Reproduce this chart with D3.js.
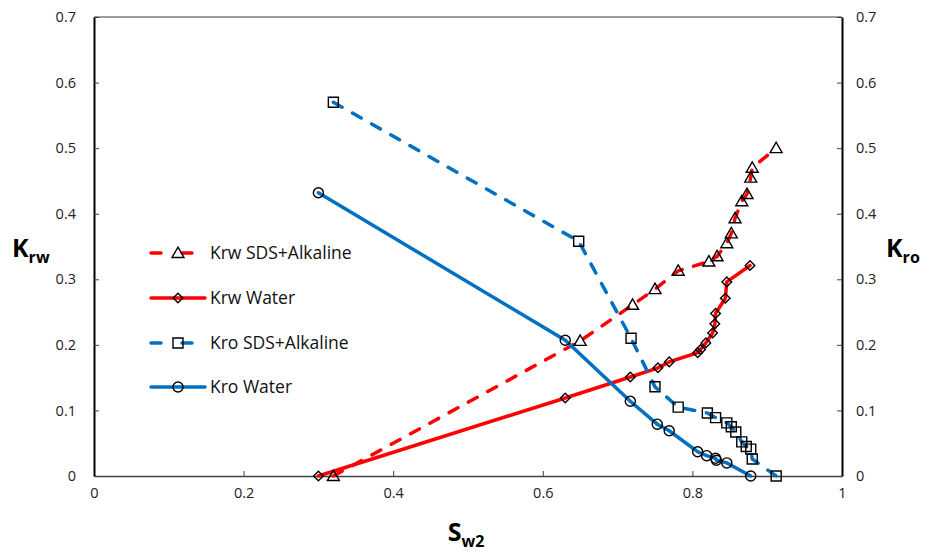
<!DOCTYPE html>
<html>
<head>
<meta charset="utf-8">
<script src="https://cdn.jsdelivr.net/npm/d3@7"></script>
<style>
  body { margin: 0; background: #fff; }
  text { font-family: "Open Sans", "Noto Sans", sans-serif; }
</style>
</head>
<body>
<div id="chart"></div>
<script>
// series
var krwSdsX = [0.32, 0.65, 0.72, 0.75, 0.781, 0.822, 0.833, 0.846, 0.852, 0.857, 0.866, 0.873, 0.878, 0.880, 0.912];
var krwSdsY = [0, 0.206, 0.261, 0.285, 0.313, 0.327, 0.335, 0.355, 0.37, 0.393, 0.419, 0.43, 0.455, 0.47, 0.5];

var krwWaterX = [0.30, 0.63, 0.717, 0.754, 0.769, 0.807, 0.811, 0.818, 0.827, 0.830, 0.831, 0.844, 0.846, 0.877];
var krwWaterY = [0, 0.119, 0.151, 0.165, 0.174, 0.188, 0.193, 0.203, 0.218, 0.232, 0.248, 0.271, 0.296, 0.321];

var kroSdsX = [0.32, 0.648, 0.718, 0.75, 0.781, 0.82, 0.831, 0.846, 0.852, 0.858, 0.866, 0.872, 0.878, 0.880, 0.912];
var kroSdsY = [0.570, 0.358, 0.21, 0.136, 0.105, 0.096, 0.089, 0.081, 0.075, 0.067, 0.052, 0.045, 0.041, 0.026, 0];

var kroWaterX = [0.30, 0.63, 0.717, 0.753, 0.769, 0.807, 0.819, 0.831, 0.832, 0.846, 0.878];
var kroWaterY = [0.432, 0.207, 0.114, 0.079, 0.069, 0.037, 0.031, 0.027, 0.024, 0.020, 0];

var xTicks = [0, 0.2, 0.4, 0.6, 0.8, 1];
var yTicks = [0, 0.1, 0.2, 0.3, 0.4, 0.5, 0.6, 0.7];

var seriesNames = ["Krw SDS+Alkaline", "Krw Water", "Kro SDS+Alkaline", "Kro Water"];

var width = 934, height = 553;
var plotL = 94, plotR = 842, plotT = 17, plotB = 476;

var x = d3.scaleLinear().domain([0, 1]).range([plotL, plotR]);
var y = d3.scaleLinear().domain([0, 0.7]).range([plotB, plotT]);

var svg = d3.select("#chart").append("svg")
    .attr("width", width)
    .attr("height", height);

// frame: thin dark top, black sides and bottom
svg.append("line").attr("x1", plotL).attr("x2", plotR).attr("y1", plotT).attr("y2", plotT)
    .attr("stroke", "#404040").attr("stroke-width", 1.2);

var fmt = d3.format("~g");

var xAxis = svg.append("g")
    .attr("transform", "translate(0," + plotB + ")")
    .call(d3.axisBottom(x).tickValues(xTicks).tickSizeInner(-5).tickSizeOuter(0).tickPadding(12).tickFormat(fmt));

var yLeft = svg.append("g")
    .attr("transform", "translate(" + plotL + ",0)")
    .call(d3.axisLeft(y).tickValues(yTicks).tickSizeInner(-5).tickSizeOuter(0).tickPadding(18).tickFormat(fmt));

var yRight = svg.append("g")
    .attr("transform", "translate(" + plotR + ",0)")
    .call(d3.axisRight(y).tickValues(yTicks).tickSizeInner(-5).tickSizeOuter(0).tickPadding(14).tickFormat(fmt));

[xAxis, yLeft, yRight].forEach(function (g) {
    g.select(".domain").attr("stroke", "#000").attr("stroke-width", 2);
    g.selectAll(".tick line").attr("stroke", "#404040").attr("stroke-width", 1);
    g.selectAll(".tick text").attr("fill", "#222").style("font-size", "14.5px")
        .style("font-family", "'Open Sans', sans-serif");
});
xAxis.select(".domain").attr("stroke", "#404040").attr("stroke-width", 1.5);

var series = [
    {xs: krwSdsX, ys: krwSdsY, color: "#ff0000", dash: true, sym: "triangle"},
    {xs: krwWaterX, ys: krwWaterY, color: "#ff0000", dash: false, sym: "diamond"},
    {xs: kroSdsX, ys: kroSdsY, color: "#0070c0", dash: true, sym: "square"},
    {xs: kroWaterX, ys: kroWaterY, color: "#0070c0", dash: false, sym: "circle"}
];

var line = d3.line()
    .x(function (d) { return x(d[0]); })
    .y(function (d) { return y(d[1]); });

function markerPath(sym) {
    if (sym == "triangle") return d3.symbol().type(d3.symbolTriangle).size(62)();
    if (sym == "square") return d3.symbol().type(d3.symbolSquare).size(100)();
    if (sym == "circle") return d3.symbol().type(d3.symbolCircle).size(80)();
    return d3.symbol().type(d3.symbolSquare).size(46)();
}

function markerTransform(sym, px, py) {
    if (sym == "diamond") return "translate(" + px + "," + py + ") rotate(45)";
    if (sym == "triangle") return "translate(" + px + "," + (py + 1) + ")";
    return "translate(" + px + "," + py + ")";
}

series.forEach(function (s) {
    var pts = s.xs.map(function (v, i) { return [v, s.ys[i]]; });
    svg.append("path")
        .datum(pts)
        .attr("d", line)
        .attr("fill", "none")
        .attr("stroke", s.color)
        .attr("stroke-width", 3.5)
        .attr("stroke-linecap", "round")
        .attr("stroke-dasharray", s.dash ? "10,12" : null);
});

series.forEach(function (s) {
    var pts = s.xs.map(function (v, i) { return [v, s.ys[i]]; });
    svg.append("g").selectAll("path")
        .data(pts)
        .enter().append("path")
        .attr("d", markerPath(s.sym))
        .attr("transform", function (d) { return markerTransform(s.sym, x(d[0]), y(d[1])); })
        .attr("fill", "none")
        .attr("stroke", "#000")
        .attr("stroke-width", 1.4);
});

// legend
var legendY = [253, 298, 343, 387];
var legend = svg.append("g");
series.forEach(function (s, i) {
    var ly = legendY[i];
    legend.append("line")
        .attr("x1", 151).attr("x2", 205).attr("y1", ly).attr("y2", ly)
        .attr("stroke", s.color).attr("stroke-width", 3.5)
        .attr("stroke-linecap", "round")
        .attr("stroke-dasharray", s.dash ? "10,21" : null);
    legend.append("path")
        .attr("d", markerPath(s.sym))
        .attr("transform", markerTransform(s.sym, 178, ly))
        .attr("fill", "none").attr("stroke", "#000").attr("stroke-width", 1.4);
    legend.append("text")
        .attr("x", 210).attr("y", ly + 6)
        .style("font-size", "17.5px")
        .attr("fill", "#111")
        .text(seriesNames[i]);
});

// axis titles
function title(tx, ty, main, sub, anchor) {
    var t = svg.append("text")
        .attr("x", tx).attr("y", ty)
        .attr("text-anchor", anchor || "start")
        .style("font-weight", "bold")
        .style("font-size", "25px")
        .attr("fill", "#000");
    t.append("tspan").text(main);
    t.append("tspan").attr("dy", 6).style("font-size", "16px").text(sub);
}
title(12, 257, "K", "rw");
title(886, 257, "K", "ro");
title(466, 541, "S", "w2", "middle");
</script>
</body>
</html>
